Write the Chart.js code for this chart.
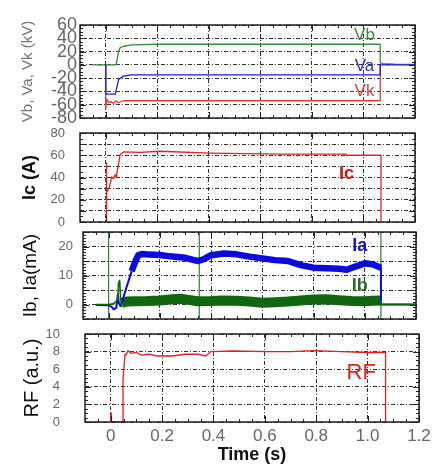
<!DOCTYPE html>
<html>
<head>
<meta charset="utf-8">
<title>Discharge waveforms</title>
<script src="https://cdn.jsdelivr.net/npm/chart.js@4.4.1/dist/chart.umd.min.js"></script>
<style>
  body { margin: 0; background: #fff; }
  #wrap { position: relative; width: 436px; height: 470px; }
  #wrap canvas { position: absolute; left: 0; top: 0; }
</style>
</head>
<body>
<div id="wrap">
  <canvas id="c1" width="436" height="470"></canvas>
  <canvas id="c2" width="436" height="470"></canvas>
  <canvas id="c3" width="436" height="470"></canvas>
  <canvas id="c4" width="436" height="470"></canvas>
</div>
<script>
// time axis (s)
const xTicks = [0, 0.2, 0.4, 0.6, 0.8, 1, 1.2];

// panel 1 : voltages (kV)
const vbT = [-0.05, 0.04, 0.05, 0.056, 0.07, 0.1, 0.2, 0.4, 0.6, 0.8, 1.0, 1.065, 1.065, 1.075, 1.12, 1.2];
const vbV = [0, 0, 20, 26, 28, 30, 31, 31, 31, 31, 31, 31, 3, 2, 1, 0.5];
const vaT = [0, 0, 0.037, 0.05, 0.068, 0.1, 0.3, 0.6, 0.9, 1.065, 1.065, 1.2];
const vaV = [0, -44, -44, -22, -17, -15, -15, -15, -15, -15, 0, 0];
const vkT = [0, 0, 0.004, 0.012, 0.02, 0.03, 0.04, 0.05, 0.06, 0.075, 0.1, 0.5, 1.065, 1.065];
const vkV = [0, -66, -52, -57, -55, -58, -54, -57, -55, -54, -54, -54, -54, 0];

// panel 2 : Ic (A)
const icT = [0.002, 0.002, 0.004, 0.014, 0.023, 0.03, 0.037, 0.041, 0.046, 0.056, 0.069, 0.133, 0.211, 0.404, 0.688, 0.933, 0.933, 1.068, 1.068];
const icV = [0, 53, 26, 31.5, 40.5, 39, 42.6, 39.6, 48, 60.6, 63, 62.5, 63.6, 62, 61, 61, 60, 60, 0];

// panel 3 : Ia, Ib (mA)
const iaThinT = [-0.05, 0.0, 0.012, 0.02, 0.03, 0.036, 0.04, 0.046, 0.052, 0.07, 0.09, null, 1.063, 1.063, 1.2];
const iaThinV = [-0.2, -0.3, -0.8, -1.7, -1.2, 3.5, 0.5, -0.5, 0.8, 6, 11.5, null, 12.7, 0, 0];
const iaT = [0.09, 0.105, 0.116, 0.13, 0.16, 0.2, 0.24, 0.27, 0.3, 0.33, 0.35, 0.37, 0.4, 0.45, 0.5, 0.55, 0.6, 0.65, 0.7, 0.75, 0.8, 0.85, 0.9, 0.93, 0.96, 1.0, 1.03, 1.063];
const iaV = [11.5, 15, 17, 17.4, 17.2, 17.1, 16.6, 16.4, 16.1, 15.4, 15, 15.6, 17, 17.6, 17.3, 16.5, 15.9, 15.3, 15, 13.6, 12.7, 12.5, 12.3, 12, 13, 14.2, 13.9, 12.7];
const ibThinT = [-0.05, 0.0, 0.02, 0.03, 0.035, 0.039, 0.043, 0.047, 0.052, null, 1.063, 1.063, 1.2];
const ibThinV = [0, 0, 0.3, 1.2, 1.5, 7.5, 8.3, 2, -1, null, 1.4, 0, 0];
const ibT = [0.052, 0.07, 0.1, 0.15, 0.2, 0.25, 0.28, 0.31, 0.35, 0.4, 0.45, 0.5, 0.55, 0.6, 0.65, 0.7, 0.75, 0.8, 0.85, 0.9, 0.95, 1.0, 1.03, 1.063];
const ibV = [0.5, 1.0, 1.1, 1.2, 1.4, 1.8, 2.0, 1.6, 1.1, 1.2, 1.4, 1.3, 1.0, 0.6, 0.8, 1.0, 1.4, 1.7, 1.8, 1.5, 1.2, 1.1, 1.3, 1.4];
const markT = [0, 0.354, 1.063];

// panel 4 : RF (a.u.)
const rfT = [0, 0, 0.003, 0.003, 0.048, 0.048, 0.052, 0.056, 0.06, 0.067, 0.08, 0.1, 0.12, 0.15, 0.18, 0.2, 0.24, 0.29, 0.34, 0.37, 0.39, 0.48, 0.605, 0.7, 0.79, 0.9, 1.0, 1.07, 1.07];
const rfV = [0, 1, 1, 0, 0, 4.8, 6.3, 7.7, 7.6, 8.1, 7.8, 7.9, 7.6, 7.7, 7.5, 7.5, 7.5, 7.7, 7.7, 7.5, 8.0, 8.07, 8.0, 8.0, 8.1, 8.0, 7.9, 7.9, 0];

const FONT = "'Liberation Sans', Arial, sans-serif";
const pts = (t, v) => t.map((x, i) => (x === null ? { x: NaN, y: null } : { x, y: v[i] }));

// box with inward ticks on all four sides
const frame = {
  id: 'frame',
  afterDatasetsDraw(chart, args, o) {
    const { ctx, chartArea: a, scales: { x, y } } = chart;
    ctx.save();
    ctx.strokeStyle = '#222';
    ctx.lineWidth = 1;
    ctx.beginPath();
    const n = Math.round((x.max - x.min) / 0.05);
    for (let i = 0; i <= n; i++) {
      const v = x.min + i * 0.05;
      const major = xTicks.some(t => Math.abs(t - v) < 1e-6);
      const px = Math.round(x.getPixelForValue(v)) + 0.5, len = major ? 6 : 3;
      ctx.moveTo(px, a.bottom); ctx.lineTo(px, a.bottom - len);
      ctx.moveTo(px, a.top); ctx.lineTo(px, a.top + len);
    }
    const m = Math.round((y.max - y.min) / o.yMinor);
    for (let i = 0; i <= m; i++) {
      const v = y.min + i * o.yMinor;
      const major = y.ticks.some(t => Math.abs(t.value - v) < 1e-6);
      const py = Math.round(y.getPixelForValue(v)) + 0.5, len = major ? 6 : 3;
      ctx.moveTo(a.left, py); ctx.lineTo(a.left + len, py);
      ctx.moveTo(a.right, py); ctx.lineTo(a.right - len, py);
    }
    ctx.stroke();
    ctx.lineWidth = 1.5;
    ctx.strokeRect(a.left, a.top, a.right - a.left, a.bottom - a.top);
    ctx.restore();
  }
};

// series names written inside the plot
const tags = {
  id: 'tags',
  afterDatasetsDraw(chart, args, o) {
    const { ctx, scales: { x, y } } = chart;
    ctx.save();
    ctx.textAlign = 'center';
    ctx.textBaseline = 'middle';
    (o.items || []).forEach(t => {
      ctx.font = t.font;
      ctx.fillStyle = t.color;
      ctx.fillText(t.text, x.getPixelForValue(t.x), y.getPixelForValue(t.y));
    });
    ctx.restore();
  }
};

function line(data, color, width) {
  return {
    data, borderColor: color, borderWidth: width || 1.3, pointRadius: 0, tension: 0,
    spanGaps: false, borderJoinStyle: 'round', borderCapStyle: 'butt'
  };
}

function panel(id, p) {
  const xAxisH = p.xAxisH || 0;
  return new Chart(document.getElementById(id), {
    type: 'line',
    data: { datasets: p.datasets },
    options: {
      responsive: false,
      animation: false,
      events: [],
      layout: { padding: { top: p.top, bottom: 470 - p.bottom - xAxisH, left: 0, right: 436 - p.right } },
      plugins: {
        legend: { display: false },
        tooltip: { enabled: false },
        frame: { yMinor: p.yMinor },
        tags: { items: p.tags }
      },
      scales: {
        x: {
          type: 'linear', min: -0.1, max: 1.2,
          afterBuildTicks: s => { s.ticks = xTicks.map(v => ({ value: v })); },
          afterFit: s => { s.height = xAxisH; },
          grid: { color: '#333', drawTicks: false },
          border: { display: false, dash: [4, 2, 1, 2] },
          ticks: {
            display: xAxisH > 0, autoSkip: false, maxRotation: 0, padding: 4,
            color: '#666', font: { family: FONT, size: 17 }
          },
          title: {
            display: xAxisH > 0, text: 'Time (s)', color: '#111',
            font: { family: FONT, size: 18, weight: 'bold' }, padding: { top: 0, bottom: 4 }
          }
        },
        y: {
          min: p.yMin, max: p.yMax,
          afterBuildTicks: s => { s.ticks = p.yTicks.map(v => ({ value: v })); },
          afterFit: s => { s.width = p.left; },
          grid: { color: '#333', drawTicks: false },
          border: { display: false, dash: [4, 2, 1, 2] },
          ticks: {
            autoSkip: false, padding: p.tickPad, color: '#666',
            font: { family: FONT, size: p.tickSize },
            callback: v => (p.yLabels.includes(v) ? String(v) : '')
          },
          title: {
            display: true, text: p.title, color: p.titleColor,
            font: { family: FONT, size: p.titleSize, weight: p.titleWeight },
            padding: { top: p.titlePad, bottom: 0 }
          }
        }
      }
    },
    plugins: [frame, tags]
  });
}

panel('c1', {
  top: 25, bottom: 118, left: 80, right: 415,
  yMin: -80, yMax: 60, yTicks: [-80, -60, -40, -20, 0, 20, 40, 60], yLabels: [-80, -60, -40, -20, 0, 20, 40, 60],
  yMinor: 5, tickSize: 18, tickPad: 3,
  title: 'Vb, Va, Vk (kV)', titleColor: '#777', titleSize: 15, titleWeight: 'normal', titlePad: 19,
  datasets: [
    line(pts(vaT, vaV), '#1a1ae6'),
    line(pts(vbT, vbV), '#3b8a3b'),
    line(pts(vkT, vkV), '#e8393a')
  ],
  tags: [
    { text: 'Vb', x: 1.004, y: 44, color: '#3b8a3b', font: `17px ${FONT}` },
    { text: 'Va', x: 1.004, y: -2.6, color: '#2a2ae0', font: `17px ${FONT}` },
    { text: 'Vk', x: 1.004, y: -40, color: '#e84040', font: `17px ${FONT}` }
  ]
});

panel('c2', {
  top: 133, bottom: 222, left: 80, right: 415,
  yMin: 0, yMax: 80, yTicks: [0, 10, 20, 30, 40, 50, 60, 70, 80], yLabels: [0, 20, 40, 60, 80],
  yMinor: 5, tickSize: 13, tickPad: 15,
  title: 'Ic (A)', titleColor: '#111', titleSize: 18, titleWeight: 'bold', titlePad: 19,
  datasets: [line(pts(icT, icV), '#e82020')],
  tags: [{ text: 'Ic', x: 0.934, y: 42.7, color: '#d41414', font: `bold 18px ${FONT}` }]
});

panel('c3', {
  top: 232, bottom: 319, left: 83, right: 416,
  yMin: -5, yMax: 25, yTicks: [-5, 0, 5, 10, 15, 20, 25], yLabels: [0, 10, 20],
  yMinor: 1, tickSize: 13, tickPad: 10,
  title: 'Ib, Ia(mA)', titleColor: '#111', titleSize: 19, titleWeight: 'normal', titlePad: 19,
  datasets: [
    line(pts(ibThinT, ibThinV), '#116611', 1.6),
    line(pts(iaThinT, iaThinV), '#0a0ae0', 2),
    line(pts(iaT, iaV), '#0a0ae0', 6.5),
    line(pts(ibT, ibV), '#116611', 10),
    line(markT.flatMap(x => [{ x, y: -5 }, { x, y: 25 }, { x: NaN, y: null }]), '#3c7c3c', 1.2)
  ],
  tags: [
    { text: 'Ia', x: 0.98, y: 20, color: '#1414d4', font: `bold 18px ${FONT}` },
    { text: 'Ib', x: 0.98, y: 6.5, color: '#2a6a2a', font: `bold 18px ${FONT}` }
  ]
});

panel('c4', {
  top: 334, bottom: 422, left: 85, right: 419, xAxisH: 48,
  yMin: 0, yMax: 10, yTicks: [0, 2, 4, 6, 8, 10], yLabels: [0, 2, 4, 6, 8, 10],
  yMinor: 0.5, tickSize: 13, tickPad: 25,
  title: 'RF (a.u.)', titleColor: '#111', titleSize: 20, titleWeight: 'normal', titlePad: 20,
  datasets: [line(pts(rfT, rfV), '#e41e1e')],
  tags: [{ text: 'RF', x: 0.975, y: 5.6, color: '#e02020', font: `22px ${FONT}` }]
});
</script>
</body>
</html>
